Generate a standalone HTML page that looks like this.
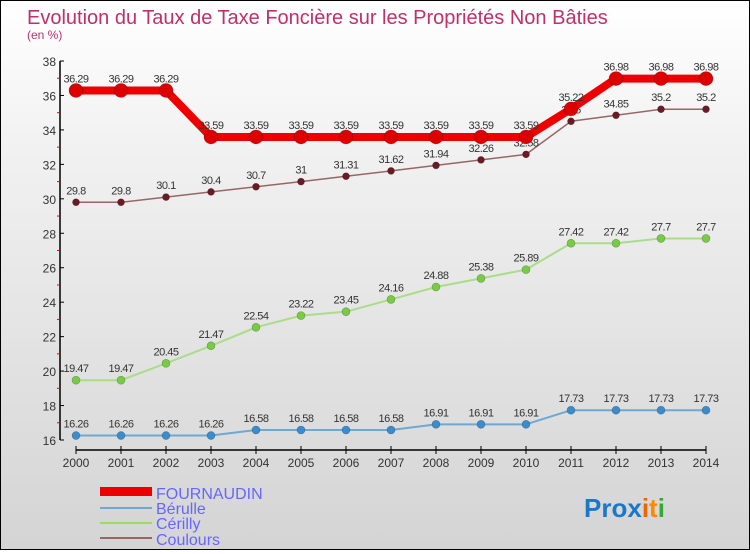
<!DOCTYPE html>
<html><head><meta charset="utf-8"><style>
html,body{margin:0;padding:0}
body{width:750px;height:550px;overflow:hidden;font-family:"Liberation Sans",sans-serif}
#wrap{position:relative;width:748px;height:548px;border:1px solid #000;background:linear-gradient(#ffffff 0%,#f2f2f2 25%,#d4d4d4 100%)}
</style></head><body>
<div id="wrap">
<svg id="chart" width="748" height="548" viewBox="0 0 748 548">
<text x="26" y="23" font-size="20" fill="#c0306a">Evolution du Taux de Taxe Foncière sur les Propriétés Non Bâties</text>
<text x="26" y="38" font-size="12" fill="#c0306a">(en %)</text>
<g id="axes"></g>
<g id="series"></g>
<g id="legend">
<rect x="99" y="486" width="52" height="9" fill="#ee0000"/>
<text x="155" y="498" font-size="16" fill="#6666ff">FOURNAUDIN</text>
<rect x="99" y="506" width="52" height="2" fill="#6fa8d0"/>
<text x="155" y="513" font-size="16" fill="#6666ff">Bérulle</text>
<rect x="99" y="521" width="52" height="2" fill="#99dd66"/>
<text x="155" y="528" font-size="16" fill="#6666ff">Cérilly</text>
<rect x="99" y="536" width="52" height="2" fill="#996666"/>
<text x="155" y="544" font-size="16" fill="#6666ff">Coulours</text>
</g>
<g font-size="26" font-weight="bold">
<text x="583" y="516"><tspan fill="#1a77cc">Pro</tspan><tspan fill="#1a77cc">x</tspan><tspan fill="#ee6600">i</tspan><tspan fill="#ff8800">t</tspan><tspan fill="#33aa33">i</tspan></text>
</g>
</svg>
</div>
<script>
const years=[2000,2001,2002,2003,2004,2005,2006,2007,2008,2009,2010,2011,2012,2013,2014];
const fournaudin=[36.29,36.29,36.29,33.59,33.59,33.59,33.59,33.59,33.59,33.59,33.59,35.22,36.98,36.98,36.98];
const berulle=[16.26,16.26,16.26,16.26,16.58,16.58,16.58,16.58,16.91,16.91,16.91,17.73,17.73,17.73,17.73];
const cerilly=[19.47,19.47,20.45,21.47,22.54,23.22,23.45,24.16,24.88,25.38,25.89,27.42,27.42,27.7,27.7];
const coulours=[29.8,29.8,30.1,30.4,30.7,31,31.31,31.62,31.94,32.26,32.58,34.5,34.85,35.2,35.2];
const yTicks=[16,18,20,22,24,26,28,30,32,34,36,38];
const NS="http://www.w3.org/2000/svg";
const x=i=>75+i*45;
const y=v=>60+(38-v)*(379/22);
function mk(tag,attrs,parent){const e=document.createElementNS(NS,tag);for(const k in attrs)e.setAttribute(k,attrs[k]);parent.appendChild(e);return e;}
const axes=document.getElementById('axes');
let el=mk('line',{x1:59,y1:y(38),x2:59,y2:y(16),stroke:'#000','stroke-width':1.5},axes);


el=mk('line',{x1:x(0),y1:449,x2:x(14),y2:449,stroke:'#000','stroke-width':1.5},axes);


yTicks.forEach(t=>{
  mk('line',{x1:59,y1:y(t),x2:63,y2:y(t),stroke:'#000'},axes);
  if(t<38) mk('line',{x1:56,y1:y(t+1),x2:59,y2:y(t+1),stroke:'#e00'},axes);
  const tx=mk('text',{x:55,y:y(t)+5,'text-anchor':'end','font-size':12,fill:'#333'},axes);
  tx.textContent=t;
  
  
});
years.forEach((yr,i)=>{
  mk('line',{x1:x(i),y1:445,x2:x(i),y2:453,stroke:'#000'},axes);
  const tx=mk('text',{x:x(i),y:466,'text-anchor':'middle','font-size':12,fill:'#333'},axes);
  tx.textContent=yr;
  
  
});
const g=document.getElementById('series');
function series(vals,name,color,dot,w,r){
  const pts=vals.map((v,i)=>x(i)+','+y(v)).join(' ');
  const pl=mk('polyline',{points:pts,fill:'none',stroke:color,'stroke-width':w,'stroke-linejoin':'round'},g);
  
  
  vals.forEach((v,i)=>{
    const c=mk('circle',{cx:x(i),cy:y(v),r:r,fill:dot,stroke:'rgba(0,0,0,0.3)','stroke-width':0.6},g);
    
    
    const t=mk('text',{x:x(i),y:y(v)-8,'text-anchor':'middle','font-size':11,fill:'#333','letter-spacing':'-0.5'},g);
    t.textContent=v;
    
    
  });
}
series(berulle,'berulle','#6fa8d0','#3a8ccc',2,4);
series(cerilly,'cerilly','#aadd88','#77cc44',2,4);
series(coulours,'coulours','#996666','#6b1a24',1.5,3.5);
series(fournaudin,'fournaudin','#ee0000','#dd0000',8,7);
</script>
</body></html>
